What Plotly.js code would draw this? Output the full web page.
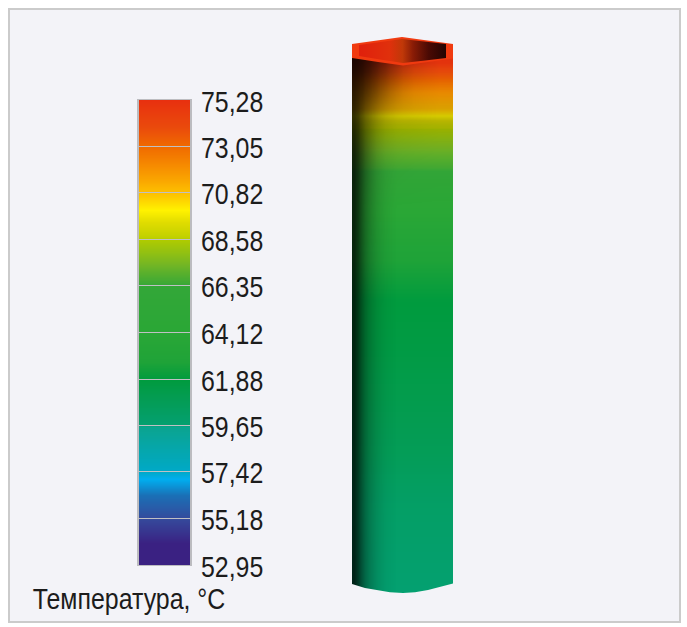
<!DOCTYPE html>
<html><head><meta charset="utf-8">
<script src="https://cdn.plot.ly/plotly-3.0.1.min.js"></script>
<style>html,body{margin:0;padding:0;background:#fff}</style></head>
<body><div id="chart" style="width:687px;height:627px"></div>
<script>
// Temperature scale
const tickValues = [75.28,73.05,70.82,68.58,66.35,64.12,61.88,59.65,57.42,55.18,52.95];
const tickLabels = ['75,28','73,05','70,82','68,58','66,35','64,12','61,88','59,65','57,42','55,18','52,95'];
const scaleMin = 52.95, scaleMax = 75.28;
const stopTemps  = [52.95,54.0,55.18,56.3,57.1,57.42,59.6,59.7,61.0,61.88,62.7,64.12,66.35,67.4,68.58,68.7,69.4,70.0,70.82,72.0,73.05,74.0,75.28];
const stopColors = ['#3a2182','#3a2182','#354a9c','#1a70b6','#00aeef','#00a9c8','#0ba48f','#04a070','#049c52','#009b3e','#1fa338','#2aa736','#33a738','#74b624','#b0cb00','#c0d000','#e0dc00','#fff200','#fdc000','#f79000','#f06a00','#ea4a0c','#e8300f'];
const legendBins = [52.95,53.5,54,54.5,55,55.5,56,56.5,57,57.5,58,58.5,59,59.5,60,60.5,61,61.5,62,62.5,63,63.5,64,64.5,65,65.5,66,66.5,67,67.5,68,68.5,69,69.5,70,70.5,71,71.5,72,72.5,73,73.5,74,74.5,75,75.28];

// Column: temperature by height, read along the shaft
const tubeXEdges = [352,402.5,453];
const tubeYEdges = [50,58,68,83,100,116,133,153,182,225,275,325,375,425,475,525,575,600];
const tubeTemps   = [75.2,75,73.6,72,71,68.9,67.7,66.6,64.4,62.9,61.9,61.6,61.2,60.8,60.2,59.9,59.7];

// Shading on the column (0 = none, 1 = black)
const shadeXEdges = [352,356,360,365,372,380,390,403,425,453];
const shadeYEdges = [50,62,80,105,135,170,245,375,523,600];
const shadeLevels = [
 [.90,.88,.84,.78,.68,.55,.38,.16,.02],
 [.86,.84,.80,.72,.60,.46,.28,.10,.02],
 [.82,.78,.72,.62,.50,.36,.22,.10,.06],
 [.80,.74,.62,.50,.38,.28,.22,.20,.18],
 [.80,.70,.54,.36,.20,.10,.05,.03,.02],
 [.78,.66,.46,.28,.14,.05,.00,.00,.00],
 [.76,.62,.42,.24,.12,.04,.00,.00,.00],
 [.76,.62,.42,.24,.12,.04,.00,.00,.00],
 [.78,.64,.44,.26,.13,.04,.00,.00,.00]
];

// Outlines of the column ends
const rimX = [352,402,453,453,428,403,378,352,352];
const rimY = [44,37,44,58.5,62,65.5,62,58,44];
const holeX = [359,402,446,446,425,403,380,359,359];
const holeY = [45,39,44,58,60.5,63,59.5,56,45];
const footX = [350,352,365,378,390,403,415,428,440,453,455,455,350,350];
const footY = [582,584,588,590.5,592.3,593,592.3,590,587,583.5,582,602,602,582];

const legendCol = [0,1];
const legendZ = legendBins.map(v => [v,v]);
const colorscale = stopTemps.map((t,i) => [(t-scaleMin)/(scaleMax-scaleMin), stopColors[i]]);
const panel = '#f3f3f8';

const traces = [
 {type:'heatmap', x:tubeXEdges, y:tubeYEdges, z:tubeTemps.map(t=>[t,t]),
  zmin:scaleMin, zmax:scaleMax, colorscale, showscale:false, zsmooth:'best', hoverinfo:'skip'},
 {type:'heatmap', x:shadeXEdges, y:shadeYEdges, z:shadeLevels, zmin:0, zmax:1, zsmooth:'best',
  colorscale:[[0,'rgba(0,0,0,0)'],[1,'rgba(0,0,0,1)']], showscale:false, hoverinfo:'skip'},
 {type:'scatter', x:footX, y:footY, mode:'lines', line:{width:0}, fill:'toself', fillcolor:panel, hoverinfo:'skip'},
 {type:'scatter', x:rimX, y:rimY, mode:'lines', line:{width:0}, fill:'toself', fillcolor:'#f03a10', hoverinfo:'skip'},
 {type:'scatter', x:holeX, y:holeY, mode:'lines', line:{width:0}, fill:'toself',
  fillgradient:{type:'horizontal', start:359, stop:446,
    colorscale:[[0,'#e0200c'],[.35,'#e0300c'],[.5,'#c03808'],[.62,'#8a1c06'],[.8,'#4a0a04'],[1,'#220402']]},
  hoverinfo:'skip'},
 {type:'heatmap', xaxis:'x2', yaxis:'y2', x:legendCol, y:legendBins, z:legendZ, zmin:scaleMin, zmax:scaleMax,
  colorscale, showscale:false, zsmooth:'best', hoverinfo:'skip'}
];

const layout = {
 width:687, height:627, margin:{l:0,r:0,t:0,b:0}, showlegend:false,
 paper_bgcolor:'#ffffff', plot_bgcolor:'rgba(0,0,0,0)',
 font:{family:'"Liberation Sans",sans-serif', color:'#1c1c1c', size:30},
 xaxis:{range:[0,687], visible:false, fixedrange:true},
 yaxis:{range:[627,0], visible:false, fixedrange:true},
 xaxis2:{domain:[138.5/687,190/687], anchor:'y2', range:[0,1], showticklabels:false, ticks:'', showgrid:false, zeroline:false,
   showline:true, linecolor:'#bcbcc0', linewidth:1, mirror:true},
 yaxis2:{domain:[1-565/627,1-100/627], anchor:'x2', side:'right', range:[scaleMin,scaleMax],
   tickmode:'array', tickvals:tickValues, ticktext:tickLabels, ticks:'inside', ticklen:52, tickcolor:'#c0c0c4', tickwidth:1,
   ticklabelstandoff:3, ticklabelshift:1, showgrid:false, zeroline:false, showline:true, linecolor:'#bcbcc0', linewidth:2, mirror:true,
   tickfont:{size:30, color:'#1c1c1c'}},
 shapes:[{type:'rect', layer:'below', xref:'x', yref:'y', x0:9, x1:680, y0:9, y1:622,
   fillcolor:panel, line:{color:'#cbcbcb', width:2}}],
 annotations:[{xref:'x', yref:'y', x:11, y:598, xanchor:'left', yanchor:'middle', showarrow:false,
   text:'Температура, °C', font:{size:30, color:'#1c1c1c'}}]
};
Plotly.newPlot('chart', traces, layout, {staticPlot:true, displayModeBar:false}).then(gd => {
  // narrow the installed grotesque to the condensed face of the original
  gd.querySelectorAll('.y2tick text, .annotation-text').forEach(t => {
    t.setAttribute('lengthAdjust','spacingAndGlyphs');
    t.setAttribute('textLength', (t.getComputedTextLength()*0.83).toFixed(1));
  });
});
</script></body></html>
